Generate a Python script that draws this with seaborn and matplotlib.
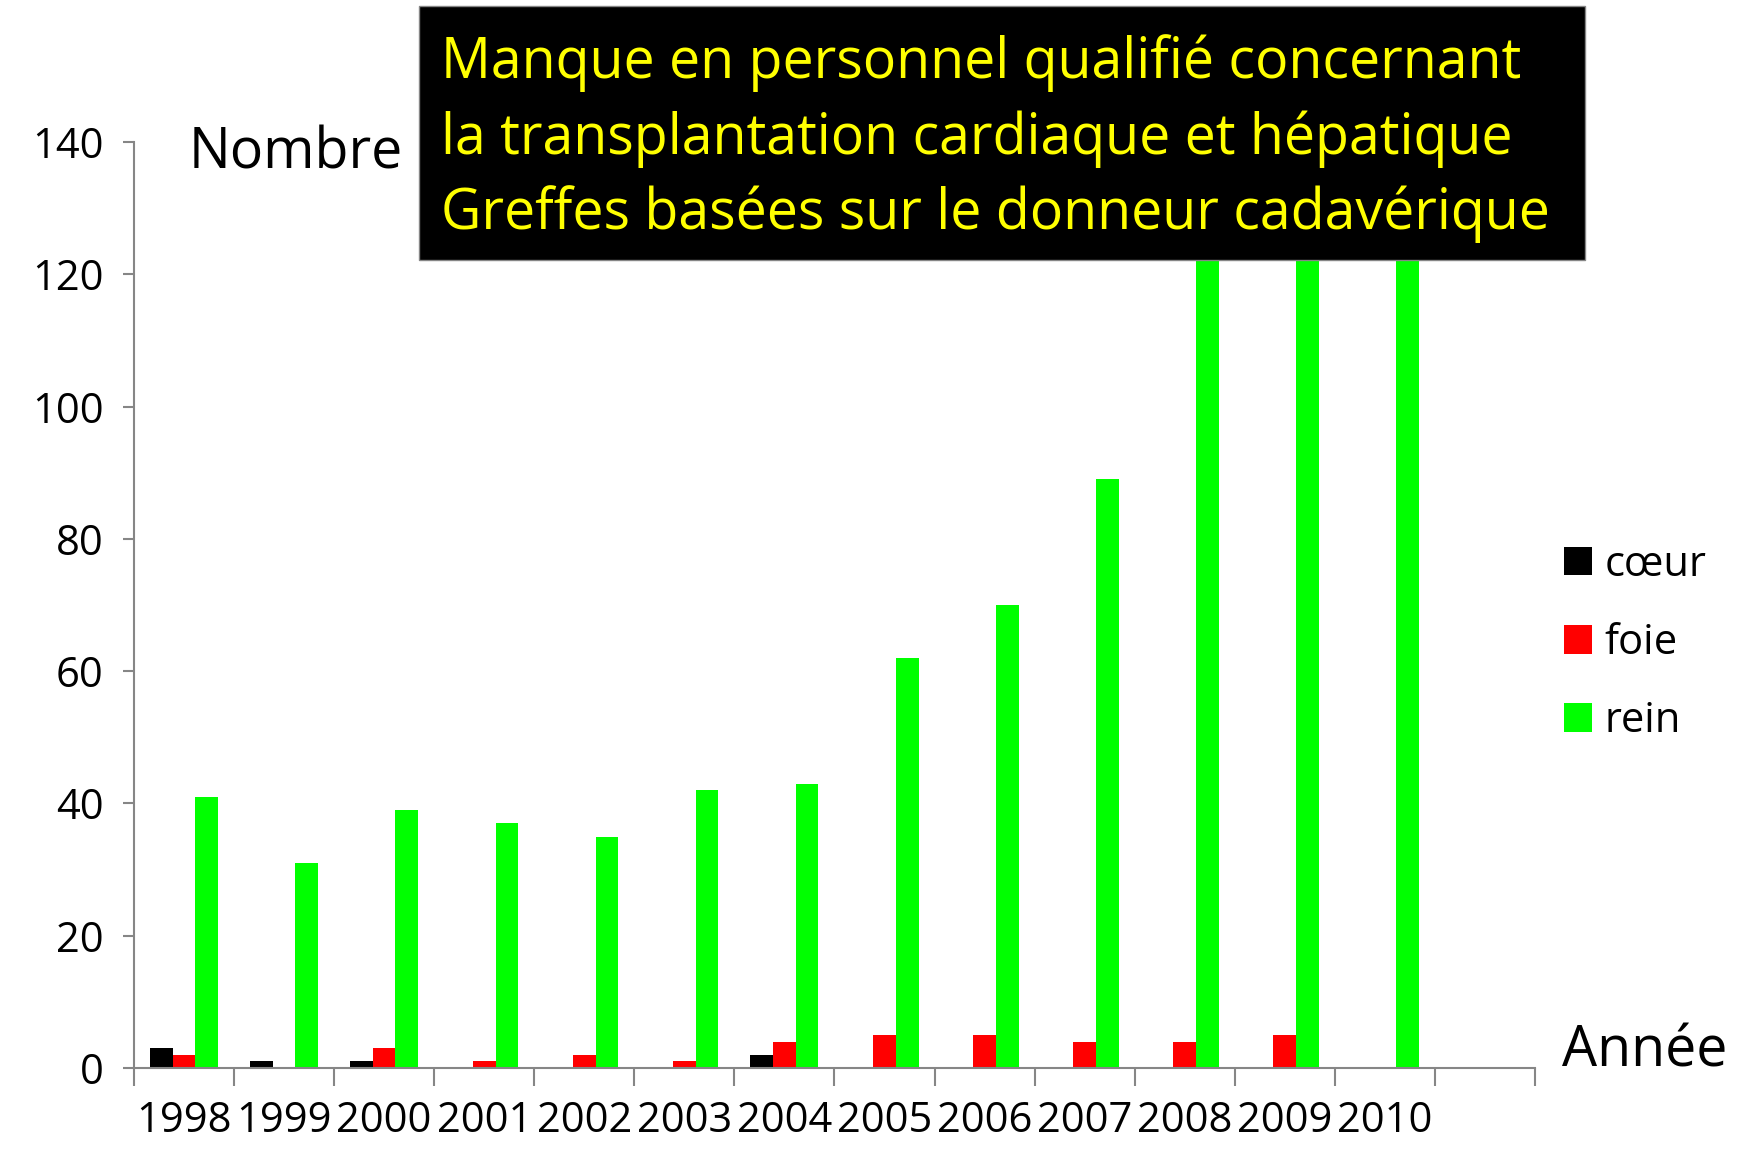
import pandas as pd
import matplotlib
matplotlib.use("Agg")
import matplotlib.pyplot as plt
from matplotlib.patches import Rectangle
import seaborn as sns

years = [str(y) for y in range(1998, 2011)]
coeur = [3, 1, 1, 0, 0, 0, 2, 0, 0, 0, 0, 0, 0]
foie = [2, 0, 3, 1, 2, 1, 4, 5, 5, 4, 4, 5, 0]
# the last three kidney bars are hidden under the black box, guessed above 122
rein = [41, 31, 39, 37, 35, 42, 43, 62, 70, 89, 131, 141, 146]
organes = ["cœur", "foie", "rein"]
couleurs = ["#000000", "#ff0000", "#00ff00"]
y_ticks = [0, 20, 40, 60, 80, 100, 120, 140]

box_lines = [
    "Manque en personnel qualifié concernant",
    "la transplantation cardiaque et hépatique",
    "Greffes basées sur le donneur cadavérique",
]

df = pd.DataFrame({
    "annee": years * 3,
    "organe": [organes[0]] * 13 + [organes[1]] * 13 + [organes[2]] * 13,
    "nombre": coeur + foie + rein,
})

sns.set_theme(style="white")
plt.rcParams["font.family"] = ["Open Sans", "DejaVu Sans"]
plt.rcParams["text.color"] = "black"
plt.rcParams["xtick.labelcolor"] = "black"
plt.rcParams["ytick.labelcolor"] = "black"

fig = plt.figure(figsize=(17.37, 11.51), dpi=100)
ax = fig.add_axes([0.0771, 0.0721, 0.8066, 0.8045])

sns.barplot(data=df, x="annee", y="nombre", hue="organe", order=years,
            hue_order=organes, palette=couleurs, width=0.68, linewidth=0,
            saturation=1, ax=ax)

gris = "#868686"
ax.set_xlim(-0.5, 13.5)
ax.set_ylim(0, 140)
ax.set_yticks(y_ticks)
ax.set_xlabel("")
ax.set_ylabel("")
for s in ["top", "right"]:
    ax.spines[s].set_visible(False)
for s in ["left", "bottom"]:
    ax.spines[s].set_color(gris)
    ax.spines[s].set_linewidth(1.5)

ax.set_xticks(range(len(years)))
ax.set_xticklabels(years)
ax.set_xticks([i - 0.5 for i in range(15)], minor=True)
ax.tick_params(axis="x", which="major", length=0, labelsize=30, pad=23)
ax.tick_params(axis="x", which="minor", length=13, width=1.5, color=gris,
               direction="out", bottom=True)
ax.tick_params(axis="y", length=8, width=1.5, color=gris, direction="out",
               labelsize=30, pad=14, left=True)

ax.text(0.1088, 0.854, "Nombre", transform=fig.transFigure, fontsize=40,
        ha="left", va="baseline")
ax.text(0.899, 0.073, "Année", transform=fig.transFigure, fontsize=40,
        ha="left", va="baseline")

handles, labels = ax.get_legend_handles_labels()
ax.legend(handles, labels, loc="center left", bbox_to_anchor=(0.9004, 0.4414),
          bbox_transform=fig.transFigure, frameon=False, fontsize=30,
          handlelength=0.67, handleheight=0.67, handletextpad=0.3,
          labelspacing=0.87, borderpad=0, borderaxespad=0)

box = Rectangle((0.2412, 0.7741), 0.6713, 0.2207, transform=fig.transFigure,
                facecolor="black", edgecolor=gris, linewidth=1, zorder=5)
fig.add_artist(box)
for txt, yb in zip(box_lines, [0.9322, 0.8662, 0.8010]):
    fig.text(0.2539, yb, txt, color="#ffff00", fontsize=40, ha="left",
             va="baseline", zorder=6)

fig.savefig("out.png", dpi=100)
